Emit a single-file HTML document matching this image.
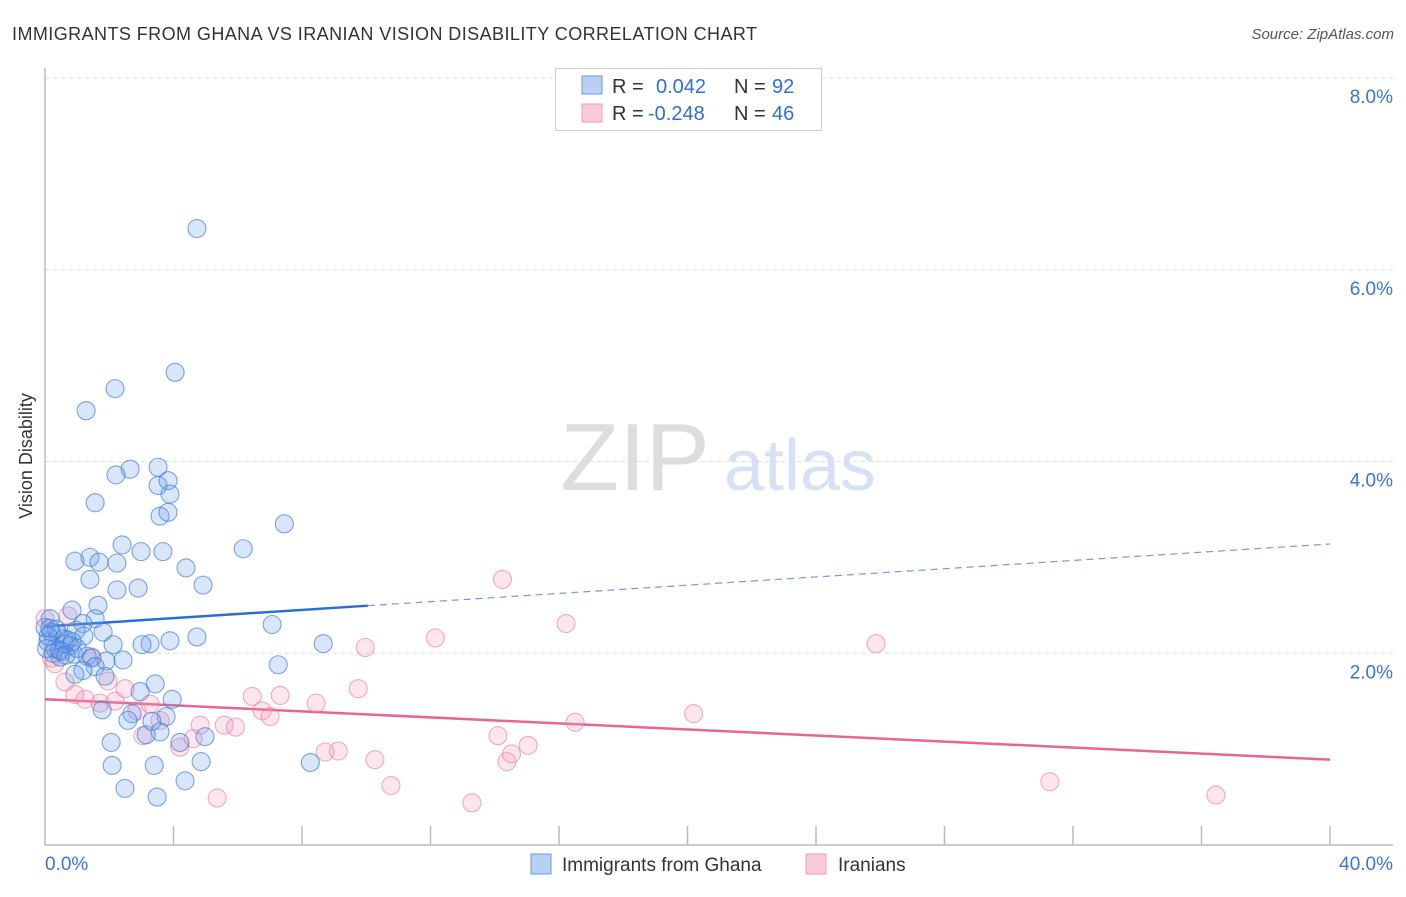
<!DOCTYPE html>
<html><head><meta charset="utf-8"><style>
body{margin:0;background:#fff;font-family:"Liberation Sans",sans-serif;}
svg text{font-family:"Liberation Sans",sans-serif;}
</style></head><body>
<svg id="chart" width="1406" height="892" xmlns="http://www.w3.org/2000/svg">
<text x="12" y="40" font-size="18" fill="#333" textLength="745" lengthAdjust="spacing">IMMIGRANTS FROM GHANA VS IRANIAN VISION DISABILITY CORRELATION CHART</text>
<text x="1394" y="39" font-size="15" fill="#555" font-style="italic" text-anchor="end">Source: ZipAtlas.com</text>
<text x="32" y="456" font-size="18" fill="#333" text-anchor="middle" transform="rotate(-90 32 456)">Vision Disability</text>
<g>
<text x="635" y="490" font-size="96" fill="#ddd" font-family="Liberation Serif" text-anchor="middle">ZIP</text>
<text x="800" y="490" font-size="72" fill="#d5e2f5" text-anchor="middle">atlas</text>
</g>
<g id="grid"></g><g id="axes"></g><g id="trends"></g><g id="pts"></g>
<g>
<rect x="555.5" y="68.5" width="266" height="62" fill="#fff" stroke="#ccc"/>
<rect x="582" y="76" width="20" height="18" fill="#b7d0f4" stroke="#6f9be0"/>
<rect x="582" y="104" width="20" height="18" fill="#fbcbd9" stroke="#f09ab6"/>
<text y="93" font-size="20" fill="#333"><tspan x="612">R =</tspan><tspan x="656" fill="#2f6fd6">0.042</tspan><tspan x="734">N =</tspan><tspan x="772" fill="#2f6fd6">92</tspan></text>
<text y="120" font-size="20" fill="#333"><tspan x="612">R =</tspan><tspan x="648" fill="#2f6fd6">-0.248</tspan><tspan x="734">N =</tspan><tspan x="772" fill="#2f6fd6">46</tspan></text>
</g>
<g>
<rect x="531" y="854" width="20" height="20" fill="#b7d0f4" stroke="#6f9be0"/>
<text x="562" y="871" font-size="19" fill="#333">Immigrants from Ghana</text>
<rect x="806" y="854" width="20" height="20" fill="#fbcbd9" stroke="#f09ab6"/>
<text x="838" y="871" font-size="19" fill="#333">Iranians</text>
</g>
</svg>
<script>
const yTicks=[2,4,6,8];
const xTickCount=10;
const ghanaX=[4.73,4.05,2.18,1.28,2.65,3.52,2.21,3.52,3.83,3.89,1.56,3.58,3.83,7.45,2.40,6.17,2.99,3.67,1.40,0.93,1.68,2.24,4.39,1.40,4.92,2.24,2.90,1.65,0.84,0.16,1.56,1.18,7.07,0.97,1.81,0.40,1.21,0.59,0.09,4.73,3.89,3.27,3.02,2.12,8.66,0.78,0.31,0.53,0.90,1.31,1.46,0.47,2.43,1.90,7.26,1.56,1.18,0.93,1.87,3.43,2.96,3.96,1.78,2.71,3.77,2.58,3.33,3.58,3.15,4.98,4.20,2.06,2.09,3.40,4.86,8.26,4.36,2.49,3.49,0.0,0.2,0.05,0.25,0.6,0.7,0.35,0.1,1.0,0.45,0.65,0.15,0.85];
const ghanaY=[6.43,4.93,4.76,4.53,3.92,3.94,3.86,3.75,3.80,3.66,3.57,3.43,3.47,3.35,3.13,3.09,3.06,3.06,3.00,2.96,2.95,2.94,2.89,2.77,2.71,2.66,2.68,2.50,2.45,2.36,2.36,2.31,2.30,2.24,2.22,2.20,2.18,2.15,2.12,2.17,2.13,2.10,2.09,2.09,2.10,2.08,2.05,2.02,1.99,1.97,1.95,1.96,1.93,1.92,1.88,1.86,1.82,1.78,1.76,1.68,1.60,1.52,1.41,1.37,1.34,1.30,1.29,1.18,1.15,1.13,1.07,1.07,0.83,0.83,0.87,0.86,0.67,0.59,0.50,2.27,2.22,2.05,2.00,2.10,2.14,2.25,2.18,2.05,2.03,1.98,2.26,2.12];
const iranX=[0,0.72,0.31,0.62,0.93,1.25,1.71,1.96,1.46,2.49,2.18,2.86,3.27,3.58,3.05,4.20,4.61,4.83,5.58,5.93,6.45,7.32,6.76,7.01,8.44,8.72,9.13,9.75,9.97,10.27,10.77,5.36,12.15,13.29,14.10,14.38,14.52,15.04,14.24,16.22,16.50,20.19,25.87,31.28,36.45,0.2];
const iranY=[2.36,2.39,1.89,1.70,1.57,1.52,1.48,1.71,1.96,1.63,1.50,1.40,1.47,1.30,1.14,1.02,1.11,1.25,1.25,1.23,1.55,1.56,1.40,1.34,1.48,0.97,0.98,1.63,2.06,0.89,0.62,0.49,2.16,0.44,1.14,0.87,0.95,1.04,2.77,2.31,1.28,1.37,2.10,0.66,0.52,1.95];
const ghanaTrend=[2.28,3.14];
const iranTrend=[1.52,0.89];
const ghanaSolidEnd=10.05;
const NS="http://www.w3.org/2000/svg";
const X=v=>45+v*(1285/40);
const Y=v=>845-v*(383.5/4);
function mk(t,a,p){const e=document.createElementNS(NS,t);for(const k in a)e.setAttribute(k,a[k]);p.appendChild(e);return e;}
const grid=document.getElementById('grid'),axes=document.getElementById('axes'),trends=document.getElementById('trends'),pts=document.getElementById('pts');
yTicks.forEach(v=>{
 const l=mk('line',{x1:45,x2:1393,y1:Y(v),y2:Y(v),stroke:'#ddd','stroke-dasharray':'4,4'},grid);
 
 
 const t=mk('text',{x:1393,y:Y(v)+25,'font-size':19,fill:'#3b73d6','text-anchor':'end'},grid);
 t.textContent=v.toFixed(1)+'%';
 
 
});
const ax=mk('path',{d:'M45 68V845H1393',fill:'none',stroke:'#bbb','stroke-width':1.5},axes);


for(let i=1;i<=xTickCount;i++){const tk=mk('line',{x1:X(i*4),x2:X(i*4),y1:826,y2:845,stroke:'#bbb','stroke-width':1.5},axes);
 
 }
const xl=mk('text',{x:45,y:870,'font-size':19,fill:'#3b73d6'},axes);xl.textContent='0.0%';


const xr=mk('text',{x:1393,y:870,'font-size':19,fill:'#3b73d6','text-anchor':'end'},axes);xr.textContent='40.0%';


function drawPts(xs,ys,fill,stroke,name){xs.forEach((x,i)=>{const c=mk('circle',{cx:X(x),cy:Y(ys[i]),r:9,fill:fill,stroke:stroke,'stroke-width':1.1},pts);
 
 });}
drawPts(iranX,iranY,'rgba(244,150,180,0.25)','rgba(232,120,155,0.6)','iranian-point');
drawPts(ghanaX,ghanaY,'rgba(110,160,235,0.26)','rgba(55,120,212,0.65)','ghana-point');
const gy=x=>ghanaTrend[0]+(ghanaTrend[1]-ghanaTrend[0])*x/40;
const g1=mk('line',{x1:X(0),y1:Y(gy(0)),x2:X(ghanaSolidEnd),y2:Y(gy(ghanaSolidEnd)),stroke:'#2a6fd6','stroke-width':2.5},trends);


const g2=mk('line',{x1:X(ghanaSolidEnd),y1:Y(gy(ghanaSolidEnd)),x2:X(40),y2:Y(gy(40)),stroke:'#6f9be0','stroke-width':1.2,'stroke-dasharray':'7,5'},trends);


const p1=mk('line',{x1:X(0),y1:Y(iranTrend[0]),x2:X(40),y2:Y(iranTrend[1]),stroke:'#e8658f','stroke-width':2.5},trends);


</script>
</body></html>
